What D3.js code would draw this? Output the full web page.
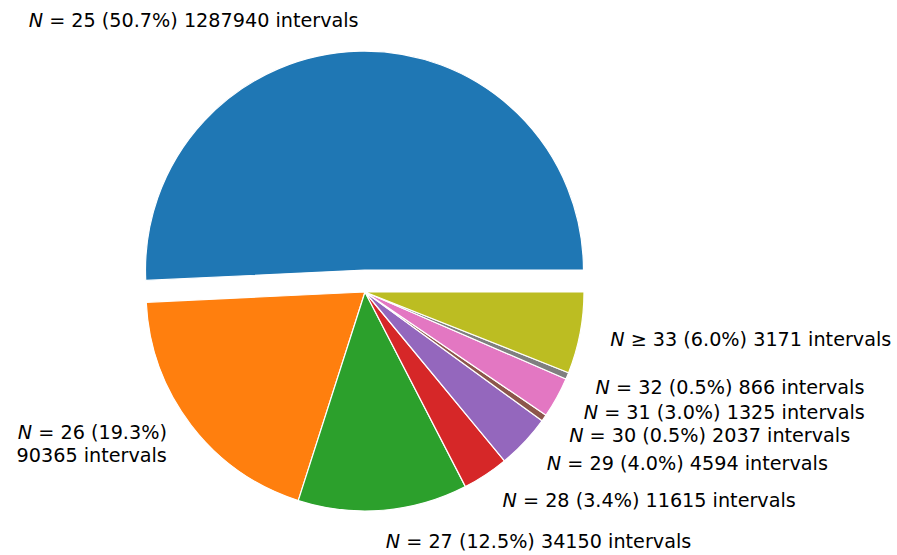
<!DOCTYPE html>
<html>
<head>
<meta charset="utf-8">
<script src="https://cdn.jsdelivr.net/npm/d3@7"></script>
<style>
  body { margin: 0; background: #fff; }
  text { font-family: "DejaVu Sans", sans-serif; font-size: 19.2px; fill: #000; }
</style>
</head>
<body>
<svg id="chart" width="897" height="555"></svg>
<script>
"use strict";

// slice values (percent) and label text
const groups = ["25", "26", "27", "28", "29", "30", "31", "32", "33"];
const relation = ["=", "=", "=", "=", "=", "=", "=", "=", "≥"];
const percents = [50.7, 19.3, 12.5, 3.4, 4.0, 0.5, 3.0, 0.5, 6.0];
const intervals = [1287940, 90365, 34150, 11615, 4594, 2037, 1325, 866, 3171];
const explode = [0.1, 0, 0, 0, 0, 0, 0, 0, 0];
const wrapLabel = [false, true, false, false, false, false, false, false, false];
const colors = ["#1f77b4", "#ff7f0e", "#2ca02c", "#d62728", "#9467bd",
                "#8c564b", "#e377c2", "#7f7f7f", "#bcbd22"];

function makePie(svg_id) {
    const svg = d3.select(svg_id),
        cx = 365, cy = 292,
        radius = 219,
        labelDistance = 1.14,
        lineHeight = 22.5,
        g = svg.append("g").attr("transform", `translate(${cx},${cy})`);

    const data = percents.map((p, i) => ({
        i: i,
        value: p,
        lines: wrapLabel[i]
            ? [` ${relation[i]} ${groups[i]} (${p.toFixed(1)}%)`, `${intervals[i]} intervals`]
            : [` ${relation[i]} ${groups[i]} (${p.toFixed(1)}%) ${intervals[i]} intervals`]
    }));

    // counter-clockwise from 3 o'clock, like matplotlib
    const pie = d3.pie().sort(null).value(d => d.value)
        .startAngle(Math.PI / 2).endAngle(Math.PI / 2 - 2 * Math.PI);
    const arc = d3.arc().innerRadius(0).outerRadius(radius);
    const arcs = pie(data);

    const mid = d => (d.startAngle + d.endAngle) / 2;
    const offset = d => {
        const e = explode[d.data.i] * radius, m = mid(d);
        return [Math.sin(m) * e, -Math.cos(m) * e];
    };

    g.selectAll(".slice")
        .data(arcs)
        .enter().append("path")
        .attr("class", "slice")
        .attr("d", arc)
        .attr("transform", d => `translate(${offset(d)})`)
        .attr("fill", d => colors[d.data.i])
        .attr("stroke", "#fff")
        .attr("stroke-width", 1.2)
        .attr("stroke-linejoin", "round");

    g.selectAll(".label")
        .data(arcs)
        .enter().append("text")
        .attr("class", "label")
        .each(function (d) {
            const m = mid(d), o = offset(d),
                x = o[0] + Math.sin(m) * radius * labelDistance,
                y = o[1] - Math.cos(m) * radius * labelDistance,
                t = d3.select(this)
                    .attr("text-anchor", x > 0 ? "start" : "end");
            const n = d.data.lines.length;
            d.data.lines.forEach((line, k) => {
                const dy = y + (k - (n - 1) / 2) * lineHeight;
                if (k === 0) {
                    t.append("tspan").attr("x", x).attr("y", dy).attr("dy", "0.35em")
                        .attr("font-style", "italic").text("N");
                    t.append("tspan").text(line);
                } else {
                    t.append("tspan").attr("x", x).attr("y", dy).attr("dy", "0.35em").text(line);
                }
            });
        });
}

makePie("#chart");
</script>
</body>
</html>
